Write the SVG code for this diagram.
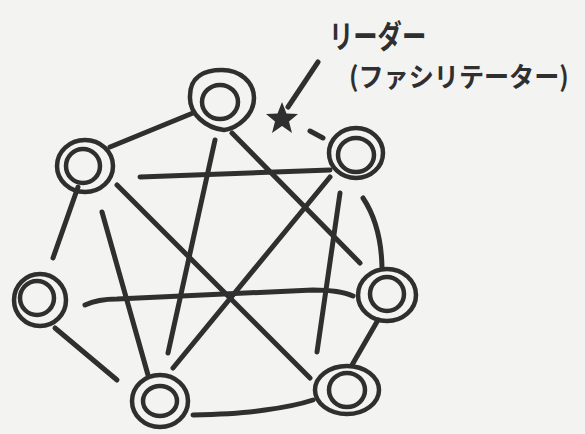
<svg xmlns="http://www.w3.org/2000/svg" width="585" height="434" viewBox="0 0 585 434">
<style>
.bg{fill:#f3f3f1}
.edge{fill:none;stroke:#2f2f2f;stroke-width:5;stroke-linecap:round;stroke-linejoin:round}
.ring{fill:none;stroke:#2f2f2f;stroke-width:4.5}
.lbl{font-family:"Noto Sans CJK JP","Noto Sans",sans-serif;font-weight:bold;fill:#2f2f2f}
</style>
<rect class="bg" x="0" y="0" width="585" height="434"/>
<g id="connectors">
<path class="edge" d="M110,147 L193,113"/>
<path class="edge" d="M215,140 L168,353"/>
<path class="edge" d="M232,133 L360,263"/>
<path class="edge" d="M140,177 L330,170"/>
<path class="edge" d="M78,187 L53,258"/>
<path class="edge" d="M102,212 L148,375"/>
<path class="edge" d="M117,185 L310,378"/>
<path class="edge" d="M330,177 L173,368"/>
<path class="edge" d="M340,193 L317,352"/>
<path class="edge" d="M363,198 Q381,225 382,267"/>
<path class="edge" d="M85,305 Q98,299 117,299 L313,290 Q340,290 353,296"/>
<path class="edge" d="M55,328 L117,380"/>
<path class="edge" d="M378,320 L352,365"/>
<path class="edge" d="M193,415 Q240,414 265,410 Q295,406 313,400"/>
<path class="edge" d="M288,107 L318,62"/>
<path class="edge" d="M310,131 L323,138"/>
</g>
<g id="n1">
<path class="ring" d="M190,96 C190,76 205,70 222,70 C240,70 254,82 254,98 C254,115 238,128 224,130 C206,128 189,114 190,96 Z"/>
<ellipse class="ring" cx="220" cy="102" rx="18" ry="17"/>
</g>
<g id="n2">
<ellipse class="ring" cx="85" cy="166" rx="28" ry="26"/>
<ellipse class="ring" cx="83" cy="166" rx="17" ry="17"/>
</g>
<g id="n3">
<ellipse class="ring" cx="356" cy="153" rx="27" ry="25"/>
<ellipse class="ring" cx="356" cy="155" rx="18" ry="17"/>
</g>
<g id="n4">
<ellipse class="ring" cx="40" cy="300" rx="26" ry="26"/>
<ellipse class="ring" cx="37" cy="298" rx="17" ry="17"/>
</g>
<g id="n5">
<ellipse class="ring" cx="387" cy="295" rx="29" ry="26"/>
<ellipse class="ring" cx="387" cy="294" rx="17" ry="17"/>
</g>
<g id="n6">
<ellipse class="ring" cx="160" cy="401" rx="28" ry="26"/>
<ellipse class="ring" cx="160" cy="401" rx="17" ry="15"/>
</g>
<g id="n7">
<ellipse class="ring" cx="347" cy="390" rx="32" ry="24"/>
<ellipse class="ring" cx="347" cy="390" rx="18" ry="17"/>
</g>
<g id="leader">
<polygon fill="#2f2f2f" points="282,102 286.5,113.5 298,114 289,121.5 292,133 282,126 272,133 275,121.5 266,114 277.5,113.5"/>
<text class="lbl" font-size="32" transform="translate(329,48) scale(0.76,1)">リーダー</text>
<text class="lbl" font-size="27" transform="translate(349,87) scale(0.93,1)">(ファシリテーター)</text>
</g>
</svg>
